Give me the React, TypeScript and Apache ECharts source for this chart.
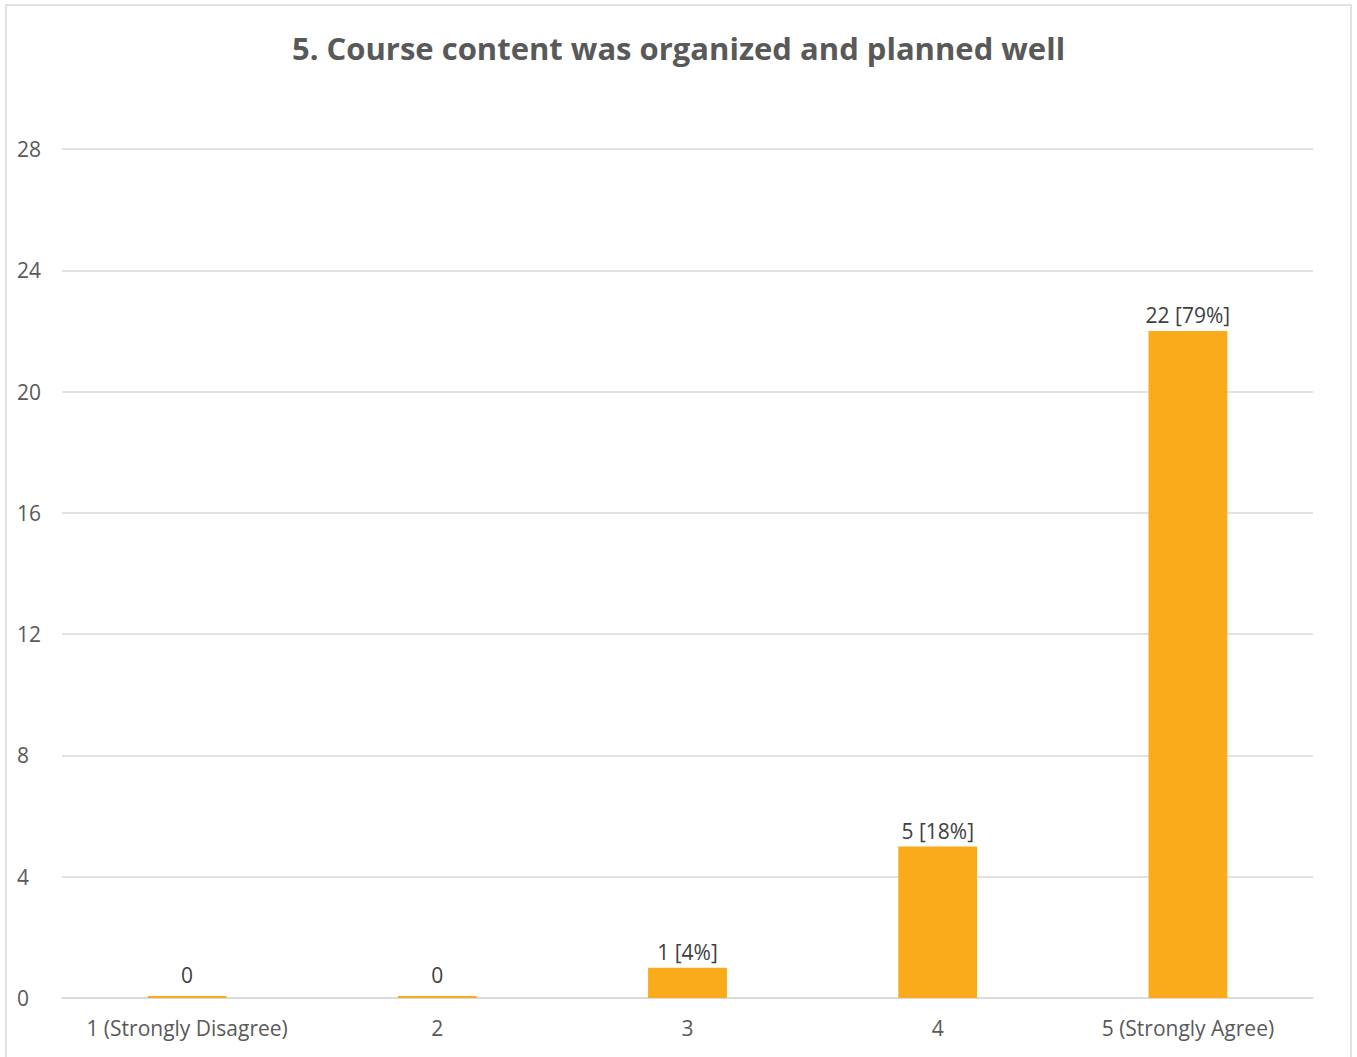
import React, { useEffect, useRef } from "react";
import * as echarts from "echarts";

const titleText = "5. Course content was organized and planned well";
const categories = ["1 (Strongly Disagree)", "2", "3", "4", "5 (Strongly Agree)"];
const counts = [0, 0, 1, 5, 22];
const percents = [null, null, 4, 18, 79];
const yMin = 0;
const yMax = 28;
const yInterval = 4;

const FONT = "'Open Sans', sans-serif";

export default function App() {
  const ref = useRef<HTMLDivElement>(null);
  useEffect(() => {
    if (!ref.current) return;
    const chart = echarts.init(ref.current, undefined, { renderer: "svg" });
    chart.setOption({
      animation: false,
      backgroundColor: "#ffffff",
      textStyle: { fontFamily: FONT },
      title: {
        text: titleText,
        left: "center",
        top: 27,
        textStyle: { fontFamily: FONT, fontSize: 31, fontWeight: "bold", color: "#595959" },
      },
      graphic: [
        {
          type: "rect",
          shape: { x: 6, y: 5, width: 1345, height: 1100 },
          style: { fill: "none", stroke: "#D9D9D9", lineWidth: 1.5 },
          silent: true,
        },
      ],
      grid: { left: 62, right: 44, top: 149, bottom: 59, containLabel: false },
      xAxis: {
        type: "category",
        data: categories,
        axisLine: { show: true, lineStyle: { color: "#D9D9D9", width: 1.5 } },
        axisTick: { show: false },
        axisLabel: { color: "#595959", fontSize: 21, fontFamily: FONT, margin: 19, interval: 0, hideOverlap: false },
      },
      yAxis: {
        type: "value",
        min: yMin,
        max: yMax,
        interval: yInterval,
        axisLine: { show: false },
        axisTick: { show: false },
        splitLine: { lineStyle: { color: "#D9D9D9", width: 1.5 } },
        axisLabel: { color: "#595959", fontSize: 21, fontFamily: FONT, margin: 45, align: "left" },
      },
      series: [
        {
          type: "bar",
          data: counts.map((v) => ({
            value: v,
            label: { distance: v === 0 ? 11 : 5 },
          })),
          barWidth: "31.5%",
          barMinHeight: 2,
          itemStyle: { color: "#FAAB1A" },
          label: {
            show: true,
            position: "top",
            distance: 5,
            color: "#404040",
            fontSize: 21,
            fontFamily: FONT,
            formatter: (p: any) => {
              const pc = percents[p.dataIndex];
              return pc == null ? String(p.value) : `${p.value} [${pc}%]`;
            },
          },
        },
      ],
    });
    return () => chart.dispose();
  }, []);
  return (
    <div
      ref={ref}
      style={{ position: "fixed", left: 0, top: 0, width: 1357, height: 1057 }}
    />
  );
}
